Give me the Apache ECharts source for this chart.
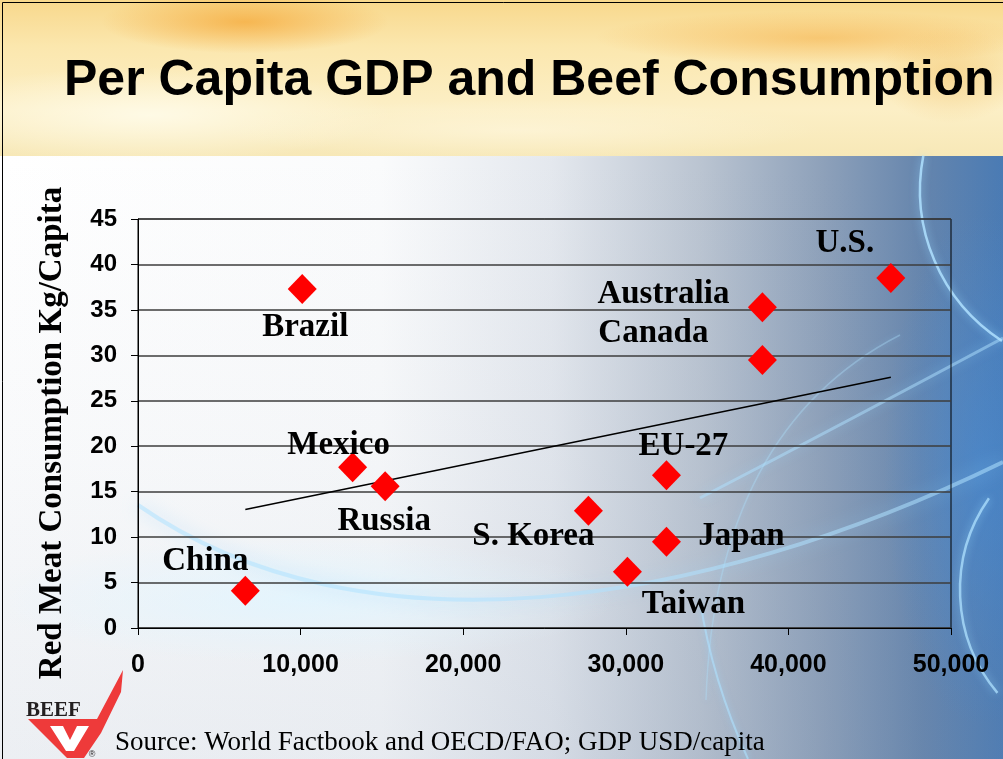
<!DOCTYPE html>
<html>
<head>
<meta charset="utf-8">
<title>Per Capita GDP and Beef Consumption</title>
<script src="https://cdn.jsdelivr.net/npm/echarts@6/dist/echarts.min.js"></script>
<style>
  html, body { margin: 0; padding: 0; background: #ffffff; }
  #chart { width: 1003px; height: 759px; }
</style>
</head>
<body>
<div id="chart"></div>
<script>
// Countries and their per capita GDP (USD) vs. red meat consumption (kg/capita)
const countries = ['China', 'Brazil', 'Mexico', 'Russia', 'S. Korea', 'Taiwan', 'EU-27', 'Japan', 'Canada', 'Australia', 'U.S.'];
const gdpPerCapita = [6600, 10100, 13200, 15200, 27700, 30100, 32500, 32500, 38400, 38400, 46300];
const redMeatKg = [4.1, 37.3, 17.7, 15.6, 12.9, 6.2, 16.8, 9.5, 29.5, 35.3, 38.5];

// Axis ticks
const xTickValues = [0, 10000, 20000, 30000, 40000, 50000];
const yTickValues = [0, 5, 10, 15, 20, 25, 30, 35, 40, 45];

// Where each country's name sits relative to its marker centre (px)
const labelOffsets = {
  'China': [-40, -29], 'Brazil': [3, 38], 'Mexico': [-14, -22], 'Russia': [-1, 35],
  'S. Korea': [-55, 26], 'Taiwan': [66, 33], 'EU-27': [17, -29], 'Japan': [75, -5],
  'Canada': [-109, -26], 'Australia': [-99, -13], 'U.S.': [-46, -35]
};
const markerSize = [29, 30];

// Least-squares linear trend through the points
function linearFit(xs, ys) {
  const n = xs.length;
  const mx = xs.reduce((a, b) => a + b, 0) / n;
  const my = ys.reduce((a, b) => a + b, 0) / n;
  let sxy = 0, sxx = 0;
  for (let i = 0; i < n; i++) {
    sxy += (xs[i] - mx) * (ys[i] - my);
    sxx += (xs[i] - mx) * (xs[i] - mx);
  }
  const slope = sxy / sxx;
  return { slope: slope, intercept: my - slope * mx };
}
const fit = linearFit(gdpPerCapita, redMeatKg);
const xMin = Math.min.apply(null, gdpPerCapita);
const xMax = Math.max.apply(null, gdpPerCapita);
const trendData = [[xMin, fit.intercept + fit.slope * xMin], [xMax, fit.intercept + fit.slope * xMax]];

const points = countries.map((name, i) => {
  const off = labelOffsets[name];
  return {
    name: name,
    value: [gdpPerCapita[i], redMeatKg[i]],
    label: { position: [markerSize[0] / 2 + off[0], markerSize[1] / 2 + off[1]] }
  };
});

const deg = Math.PI / 180;
function glow(cx, cy, r, sx, sy, rgb, a) {
  return {
    type: 'circle', x: cx, y: cy, scaleX: sx, scaleY: sy, z: -20, silent: true,
    shape: { cx: 0, cy: 0, r: r },
    style: { fill: { type: 'radial', x: 0.5, y: 0.5, r: 0.5, colorStops: [
      { offset: 0, color: 'rgba(' + rgb + ',' + a + ')' },
      { offset: 1, color: 'rgba(' + rgb + ',0)' }
    ] } }
  };
}
function streak(shape, type, width, alpha, blur) {
  return {
    type: type, z: -15, silent: true, shape: shape,
    style: { fill: null, stroke: 'rgba(175,225,255,' + alpha + ')', lineWidth: width,
             shadowBlur: blur, shadowColor: 'rgba(150,215,255,0.9)' }
  };
}

// Slide decoration: warm header band, white-to-blue body, light swirls, logo
const decoration = [
  { type: 'rect', z: -30, silent: true, shape: { x: 0, y: 156, width: 1003, height: 603 },
    style: { fill: { type: 'linear', x: 0, y: 0, x2: 1, y2: 0, colorStops: [
      { offset: 0, color: '#ffffff' }, { offset: 0.38, color: '#fafbfc' },
      { offset: 0.55, color: '#e4e8ee' }, { offset: 0.7, color: '#bac4d1' },
      { offset: 0.82, color: '#8ea1ba' }, { offset: 0.92, color: '#6585ad' },
      { offset: 1, color: '#4a7bb4' } ] } } },
  { type: 'rect', z: -29, silent: true, shape: { x: 0, y: 156, width: 1003, height: 603 },
    style: { fill: { type: 'linear', x: 0, y: 0, x2: 0, y2: 1, colorStops: [
      { offset: 0, color: 'rgba(120,140,170,0)' }, { offset: 0.5, color: 'rgba(120,140,170,0.05)' },
      { offset: 1, color: 'rgba(120,140,170,0.14)' } ] } } },
  glow(980, 470, 80, 1.2, 3.2, '70,140,215', 0.55),
  glow(300, 600, 90, 3.5, 0.7, '225,245,255', 0.8),
  streak({ x1: 138, y1: 505, cpx1: 360, cpy1: 660, cpx2: 700, cpy2: 610, x2: 1003, y2: 462 }, 'bezierCurve', 4, 0.55, 18),
  streak({ x1: 700, y1: 498, cpx1: 850, cpy1: 420, x2: 1003, y2: 338 }, 'bezierCurve', 3, 0.5, 12),
  streak({ cx: 1100, cy: 190, r: 180, startAngle: 123 * deg, endAngle: 191 * deg, clockwise: true }, 'arc', 2.5, 0.85, 8),
  streak({ cx: 1120, cy: 590, r: 160, startAngle: 140 * deg, endAngle: 215 * deg, clockwise: true }, 'arc', 2.5, 0.75, 8),
  streak({ x1: 706, y1: 700, cpx1: 715, cpy1: 430, x2: 900, y2: 335 }, 'bezierCurve', 1.5, 0.35, 6),
  streak({ x1: 700, y1: 600, cpx1: 712, cpy1: 680, x2: 748, y2: 759 }, 'bezierCurve', 2, 0.6, 6),
  // header band
  { type: 'rect', z: -25, silent: true, shape: { x: 0, y: 0, width: 1003, height: 156 },
    style: { fill: { type: 'linear', x: 0, y: 0, x2: 0, y2: 1, colorStops: [
      { offset: 0, color: '#f8d88c' }, { offset: 0.3, color: '#fbe7ae' },
      { offset: 0.7, color: '#fcefc6' }, { offset: 1, color: '#f7e8b7' } ] } } },
  glow(245, 22, 45, 3.2, 0.7, '245,165,50', 0.7),
  glow(820, 38, 45, 5, 0.6, '245,175,70', 0.55),
  glow(950, 75, 40, 1.8, 1.2, '240,185,90', 0.4),
  glow(150, 115, 60, 4, 0.8, '255,252,235', 0.85),
  glow(520, 130, 60, 5, 0.5, '255,248,225', 0.6),
  // frame
  { type: 'rect', z: 50, silent: true, shape: { x: 2.5, y: 2.5, width: 1020, height: 780 },
    style: { fill: null, stroke: '#000000', lineWidth: 1 } },
  // logo
  { type: 'polygon', z: 40, silent: true,
    shape: { points: [[28, 719], [97, 719], [123, 670], [121, 692], [101, 733], [84, 758], [67, 758]] },
    style: { fill: '#ee3a3a' } },
  { type: 'polygon', z: 41, silent: true,
    shape: { points: [[50, 726], [63, 726], [70, 740], [77, 726], [89, 726], [74, 751], [66, 751]] },
    style: { fill: '#ffffff' } },
  { type: 'text', z: 42, silent: true, x: 26, y: 711,
    style: { text: 'BEEF', font: 'bold 21px "Liberation Serif"', fill: '#231f20',
             textAlign: 'left', textVerticalAlign: 'middle' } },
  { type: 'text', z: 42, silent: true, x: 92, y: 755,
    style: { text: '®', font: '9px "Liberation Sans"', fill: '#231f20',
             textAlign: 'center', textVerticalAlign: 'middle' } },
  // y axis title
  { type: 'text', z: 42, silent: true, x: 52, y: 433, rotation: Math.PI / 2,
    style: { text: 'Red Meat Consumption Kg/Capita', font: 'bold 33px "Liberation Serif"',
             fill: '#000000', textAlign: 'center', textVerticalAlign: 'middle' } }
];

const chart = echarts.init(document.getElementById('chart'), null, { renderer: 'canvas' });
chart.setOption({
  animation: false,
  backgroundColor: 'transparent',
  title: [
    { text: 'Per Capita GDP and Beef Consumption', left: 59, top: 51,
      textStyle: { fontFamily: 'Liberation Sans', fontWeight: 'bold', fontSize: 50, color: '#000000' } },
    { text: 'Source: World Factbook and OECD/FAO; GDP USD/capita', left: 110, top: 724,
      textStyle: { fontFamily: 'Liberation Serif', fontWeight: 'normal', fontSize: 27, color: '#000000' } }
  ],
  graphic: { elements: decoration },
  grid: { left: 138, right: 52, top: 219, bottom: 131, show: true,
          borderColor: '#000000', borderWidth: 1, backgroundColor: 'transparent' },
  xAxis: {
    type: 'value', min: xTickValues[0], max: xTickValues[xTickValues.length - 1],
    interval: xTickValues[1] - xTickValues[0],
    axisLine: { show: true, onZero: false, lineStyle: { color: '#000000', width: 1 } },
    axisTick: { show: true, inside: false, length: 7, lineStyle: { color: '#000000' } },
    splitLine: { show: false },
    axisLabel: { margin: 25, color: '#000000', fontFamily: 'Liberation Sans', fontWeight: 'bold', fontSize: 25,
                 formatter: v => v.toLocaleString('en-US') }
  },
  yAxis: {
    type: 'value', min: yTickValues[0], max: yTickValues[yTickValues.length - 1],
    interval: yTickValues[1] - yTickValues[0],
    axisLine: { show: true, onZero: false, lineStyle: { color: '#000000', width: 1 } },
    axisTick: { show: true, inside: false, length: 7, lineStyle: { color: '#000000' } },
    splitLine: { show: true, lineStyle: { color: '#3c3c3c', width: 1.5 } },
    axisLabel: { margin: 21, color: '#000000', fontFamily: 'Liberation Sans', fontWeight: 'bold', fontSize: 24 }
  },
  series: [
    {
      name: 'Trend', type: 'line', data: trendData, symbol: 'none', silent: true, z: 3,
      lineStyle: { color: '#000000', width: 1.5 }
    },
    {
      name: 'Countries', type: 'scatter', data: points, symbol: 'diamond', symbolSize: markerSize, z: 4,
      itemStyle: { color: '#ff0000', opacity: 1 },
      label: { show: true, formatter: '{b}', color: '#000000', align: 'center', verticalAlign: 'middle',
               fontFamily: 'Liberation Serif', fontWeight: 'bold', fontSize: 33 },
      labelLayout: { hideOverlap: false }
    }
  ]
});
</script>
</body>
</html>
